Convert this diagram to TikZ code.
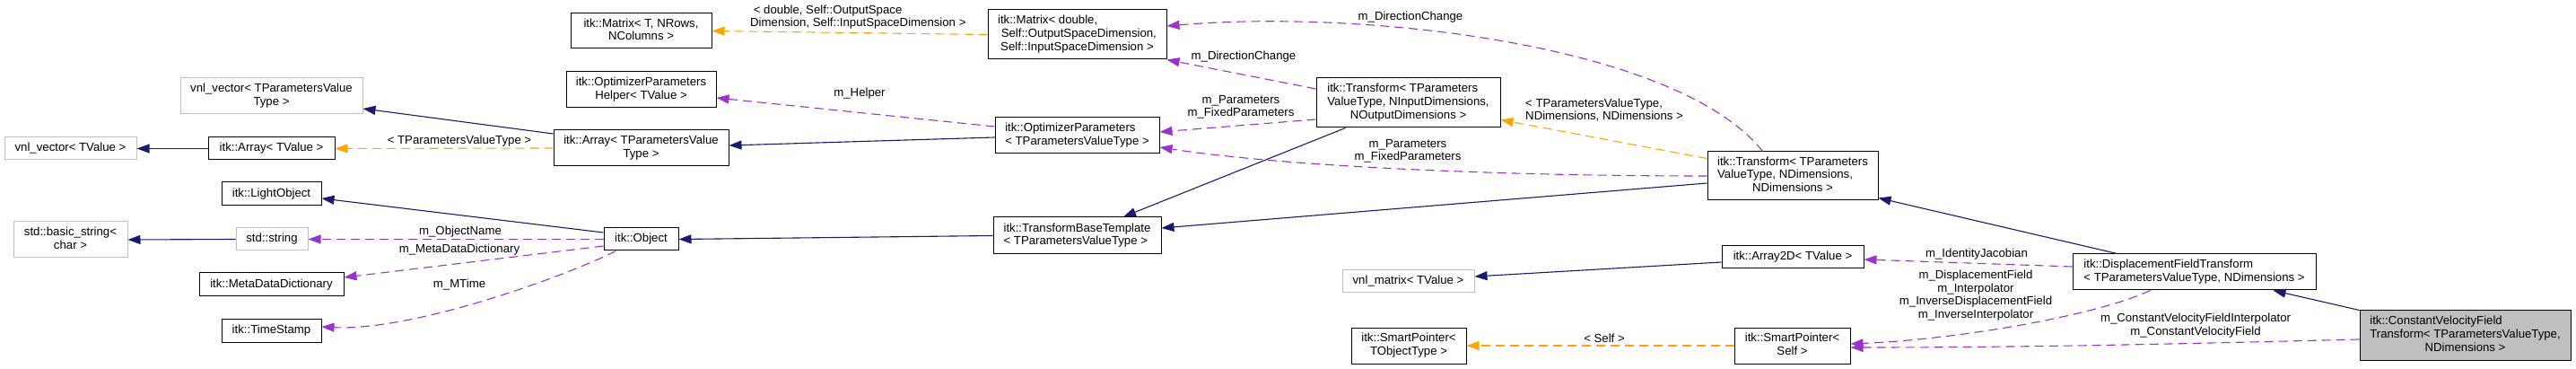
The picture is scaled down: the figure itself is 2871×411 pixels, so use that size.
\documentclass[tikz,border=0pt]{standalone}
\usepackage{fontspec}
\setmainfont{Liberation Sans}
\usetikzlibrary{arrows.meta}
\definecolor{inhcol}{HTML}{191970}
\definecolor{tmplcol}{HTML}{FFA500}
\definecolor{usecol}{HTML}{9A32CD}
\definecolor{undoccol}{HTML}{BFBFBF}
\definecolor{rootfill}{HTML}{BFBFBF}
\newcommand\lastc[2]{\begin{tabular}{@{}l@{}}#1\\\multicolumn{1}{@{}c@{}}{#2}\end{tabular}}
\newcommand\allc[1]{\begin{tabular}{@{}c@{}}#1\end{tabular}}
\newcommand\alll[1]{\begin{tabular}{@{}l@{}}#1\end{tabular}}
\tikzset{
  cls/.style={draw=black, line width=1pt, inner sep=0pt, fill=white},
  undoc/.style={cls, draw=undoccol},
  rootcls/.style={cls, fill=rootfill},
  lbl/.style={inner sep=0pt},
  tip/.style={-{Triangle[length=14pt,width=10pt]}},
  inhe/.style={tip, draw=inhcol, line width=1.1pt},
  tmpe/.style={tip, draw=tmplcol, line width=1.1pt, dash pattern=on 10pt off 6pt},
  usee/.style={tip, draw=usecol, line width=1.1pt, dash pattern=on 10pt off 6pt},
}
\begin{document}
\begin{tikzpicture}[x=1pt,y=-1pt,font=\fontsize{13.2}{14.7}\selectfont]
\useasboundingbox (0,0) rectangle (2871,411);
% nodes
\node[undoc, minimum width=203pt, minimum height=40pt] (vvT) at (302.5,107) {\allc{vnl\_vector< TParametersValue\\Type >}};
\node[undoc, minimum width=147pt, minimum height=25pt] (vvV) at (78.5,165.5) {vnl\_vector< TValue >};
\node[cls, minimum width=141pt, minimum height=25pt] (arrV) at (302.5,165.5) {itk::Array< TValue >};
\node[cls, minimum width=111pt, minimum height=26pt] (light) at (302.5,216) {itk::LightObject};
\node[undoc, minimum width=127pt, minimum height=40pt] (bstr) at (78.5,267) {\allc{std::basic\_string<\\char >}};
\node[undoc, minimum width=80pt, minimum height=25pt] (str) at (303,266.5) {std::string};
\node[cls, minimum width=161pt, minimum height=26pt] (mdd) at (302.5,317) {itk::MetaDataDictionary};
\node[cls, minimum width=111pt, minimum height=26pt] (ts) at (302.5,368) {itk::TimeStamp};
\node[cls, minimum width=157pt, minimum height=39pt] (matT) at (714.5,34.5) {\allc{itk::Matrix< T, NRows,\\NColumns >}};
\node[cls, minimum width=167pt, minimum height=40pt] (oph) at (714.5,100) {\allc{itk::OptimizerParameters\\Helper< TValue >}};
\node[cls, minimum width=195pt, minimum height=40pt] (arrP) at (714.5,165) {\allc{itk::Array< TParametersValue\\Type >}};
\node[cls, minimum width=83pt, minimum height=25pt] (obj) at (714.5,266.5) {itk::Object};
\node[cls, minimum width=199pt, minimum height=55pt] (matD) at (1200.5,38.5) {\lastc{itk::Matrix< double,\\\ Self::OutputSpaceDimension,}{Self::InputSpaceDimension >}};
\node[cls, minimum width=183pt, minimum height=40pt] (op) at (1200.5,151) {\alll{itk::OptimizerParameters\\< TParametersValueType >}};
\node[cls, minimum width=187pt, minimum height=41pt] (tbt) at (1200.5,262.5) {\alll{itk::TransformBaseTemplate\\< TParametersValueType >}};
\node[cls, minimum width=205pt, minimum height=55pt] (trNI) at (1569.5,114.5) {\lastc{itk::Transform< TParameters\\ValueType, NInputDimensions,}{NOutputDimensions >}};
\node[undoc, minimum width=147pt, minimum height=25pt] (vnlm) at (1569.5,313.5) {vnl\_matrix< TValue >};
\node[cls, minimum width=128pt, minimum height=40pt] (spT) at (1570,385) {\allc{itk::SmartPointer<\\TObjectType >}};
\node[cls, minimum width=190pt, minimum height=54pt] (trND) at (1998,196) {\lastc{itk::Transform< TParameters\\ValueType, NDimensions,}{NDimensions >}};
\node[cls, minimum width=158pt, minimum height=25pt] (a2d) at (1998,286.5) {itk::Array2D< TValue >};
\node[cls, minimum width=129pt, minimum height=40pt] (spS) at (1997.5,385) {\allc{itk::SmartPointer<\\Self >}};
\node[cls, minimum width=271pt, minimum height=40pt] (dft) at (2445.5,303) {\alll{itk::DisplacementFieldTransform\\< TParametersValueType, NDimensions >}};
\node[rootcls, minimum width=235pt, minimum height=55pt] (cvft) at (2747.5,373.5) {\lastc{itk::ConstantVelocityField\\Transform< TParametersValueType,}{NDimensions >}};
% edge labels
\node[lbl] (l1) at (512,157) {< TParametersValueType >};
\node[lbl] (l2) at (513,258) {m\_ObjectName};
\node[lbl] (l3) at (512,278) {m\_MetaDataDictionary};
\node[lbl] (l4) at (512,317) {m\_MTime};
\node[lbl, anchor=west] (l5) at (836,19.5) {\alll{\ < double, Self::OutputSpace\\Dimension, Self::InputSpaceDimension >}};
\node[lbl] (l6) at (958,104) {m\_Helper};
\node[lbl] (l7) at (1386,63) {m\_DirectionChange};
\node[lbl] (l8) at (1572,19) {m\_DirectionChange};
\node[lbl] (l9) at (1383,119.5) {\allc{m\_Parameters\\m\_FixedParameters}};
\node[lbl] (l10) at (1569,168.5) {\allc{m\_Parameters\\m\_FixedParameters}};
\node[lbl, anchor=west] (l11) at (1700,123.5) {\alll{< TParametersValueType,\\NDimensions, NDimensions >}};
\node[lbl] (l12) at (1788,377) {< Self >};
\node[lbl] (l13) at (2203,283) {m\_IdentityJacobian};
\node[lbl] (l14) at (2202,329.5) {\allc{m\_DisplacementField\\m\_Interpolator\\m\_InverseDisplacementField\\m\_InverseInterpolator}};
\node[lbl] (l15) at (2447,363) {\allc{m\_ConstantVelocityFieldInterpolator\\m\_ConstantVelocityField}};
% edges
\draw[inhe] (arrV.west) -- (vvV.east);
\draw[inhe] ([yshift=16pt]arrP.west) -- ([yshift=-14pt]vvT.east);
\draw[tmpe] (arrP.west) -- (arrV.east);
\draw[inhe] ([yshift=7.5pt]obj.west) -- ([yshift=-5pt]light.east);
\draw[inhe] (str.west) -- (bstr.east);
\draw[usee] (obj.west) -- (str.east);
\draw[usee] ([yshift=-7.5pt]obj.west) -- ([yshift=8pt]mdd.east);
\draw[usee] ([xshift=14pt]obj.south west) .. controls +(-60,30) and +(100,5) .. ([yshift=4pt]ts.east);
\draw[inhe] (tbt.west) -- (obj.east);
\draw[inhe] ([yshift=-2pt]op.west) -- ([yshift=3pt]arrP.east);
\draw[usee] ([yshift=10pt]op.west) -- ([yshift=-9pt]oph.east);
\draw[tmpe] (matD.west) -- (matT.east);
\draw[usee] ([yshift=15.5pt]trNI.west) -- (matD.south east);
\draw[usee] ([yshift=-18.5pt]trNI.west) -- ([yshift=4pt]op.east);
\draw[inhe] ([xshift=33pt]trNI.south west) -- ([xshift=51.5pt]tbt.north);
\draw[tmpe] ([yshift=-8pt]trND.north west) -- ([yshift=9pt]trNI.south east);
\draw[usee] ([xshift=62pt]trND.north west) .. controls +(-95,-119) and +(220,-19) .. ([yshift=9.5pt]matD.east);
\draw[usee] (trND.west) .. controls +(-250,0) and +(130,20) .. ([yshift=-13pt]op.east);
\draw[inhe] ([yshift=-8pt]trND.west) -- ([yshift=8.5pt]tbt.east);
\draw[inhe] ([yshift=-5.5pt]a2d.west) -- ([yshift=5.5pt]vnlm.east);
\draw[tmpe] (spS.west) -- (spT.east);
\draw[inhe] ([xshift=50pt]dft.north west) -- ([yshift=3pt]trND.south east);
\draw[usee] ([yshift=6pt]dft.west) -- ([yshift=-2.5pt]a2d.east);
\draw[usee] ([xshift=87pt]dft.south west) .. controls +(-60,28) and +(120,-5) .. ([yshift=2pt]spS.east);
\draw[inhe] (cvft.north west) -- ([xshift=-48pt]dft.south east);
\draw[usee] ([yshift=-4.5pt]cvft.west) .. controls +(-200,5) and +(200,0) .. ([yshift=-2pt]spS.east);
\end{tikzpicture}
\end{document}
